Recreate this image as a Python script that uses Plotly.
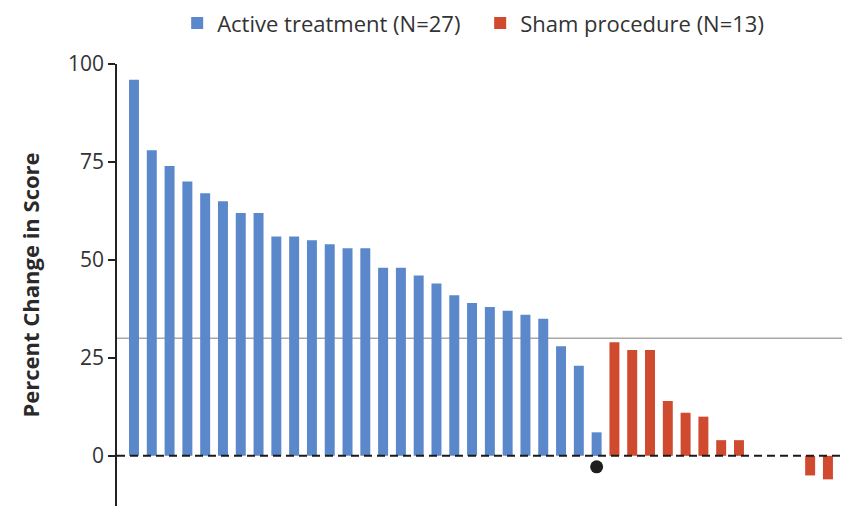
import plotly.graph_objects as go

# Percent change in score per patient, sorted within each group
active_values = [96, 78, 74, 70, 67, 65, 62, 62, 56, 56, 55, 54, 53, 53,
                 48, 48, 46, 44, 41, 39, 38, 37, 36, 35, 28, 23, 6]
sham_values = [29, 27, 27, 14, 11, 10, 4, 4, 0, 0, 0, -5, -6]

active_label = "Active treatment (N=27)"
sham_label = "Sham procedure (N=13)"

# Patient flagged with a marker below the baseline
flagged_patient = 27
flagged_marker_y = -2.8

response_threshold = 30
y_ticks = [0, 25, 50, 75, 100]

active_x = list(range(1, len(active_values) + 1))
sham_x = list(range(len(active_values) + 1,
                    len(active_values) + len(sham_values) + 1))

BLUE = "#5B87CB"
RED = "#CF4A2F"
FONT = "Open Sans"

fig = go.Figure()
fig.add_trace(go.Bar(x=active_x, y=active_values, name=active_label,
                     marker=dict(color=BLUE, line=dict(width=0))))
fig.add_trace(go.Bar(x=sham_x, y=sham_values, name=sham_label,
                     marker=dict(color=RED, line=dict(width=0))))
fig.add_trace(go.Scatter(x=[flagged_patient], y=[flagged_marker_y],
                         mode="markers", showlegend=False,
                         marker=dict(color="#1e1e1e", size=13)))

# Response threshold (gray) and baseline (dashed)
fig.add_shape(type="line", xref="paper", x0=0, x1=1, yref="y",
              y0=response_threshold, y1=response_threshold,
              line=dict(color="#a8a8a8", width=1.5), layer="below")
fig.add_shape(type="line", xref="paper", x0=0, x1=1, yref="y", y0=0, y1=0,
              line=dict(color="#1a1a1a", width=2, dash="8px,5px"),
              layer="above")

n_total = len(active_values) + len(sham_values)
fig.update_layout(
    width=842, height=506,
    margin=dict(l=117, r=0, t=64, b=0),
    paper_bgcolor="white", plot_bgcolor="white",
    barmode="overlay", bargap=0.44,
    font=dict(family=FONT, color="#333333"),
    showlegend=True,
    legend=dict(orientation="h", x=0.083, xanchor="left",
                y=1.14, yanchor="top",
                font=dict(size=22, family=FONT, color="#333333"),
                itemwidth=30, tracegroupgap=0,
                entrywidth=258, entrywidthmode="pixels",
                bgcolor="rgba(0,0,0,0)"),
    xaxis=dict(range=[0.045, n_total + 0.79], visible=False,
               showgrid=False, zeroline=False),
    yaxis=dict(range=[-12.8, 100], tickvals=y_ticks,
               ticks="outside", ticklen=7, tickwidth=1.5,
               tickcolor="#222222",
               showline=True, linecolor="#222222", linewidth=1.5,
               showgrid=False, zeroline=False,
               tickfont=dict(size=21, family=FONT, color="#333333"),
               title=dict(text="<b>Percent Change in Score</b>",
                          font=dict(size=22, family=FONT, color="#2a2a2a"),
                          standoff=22)),
)

fig.write_html("out.html")
